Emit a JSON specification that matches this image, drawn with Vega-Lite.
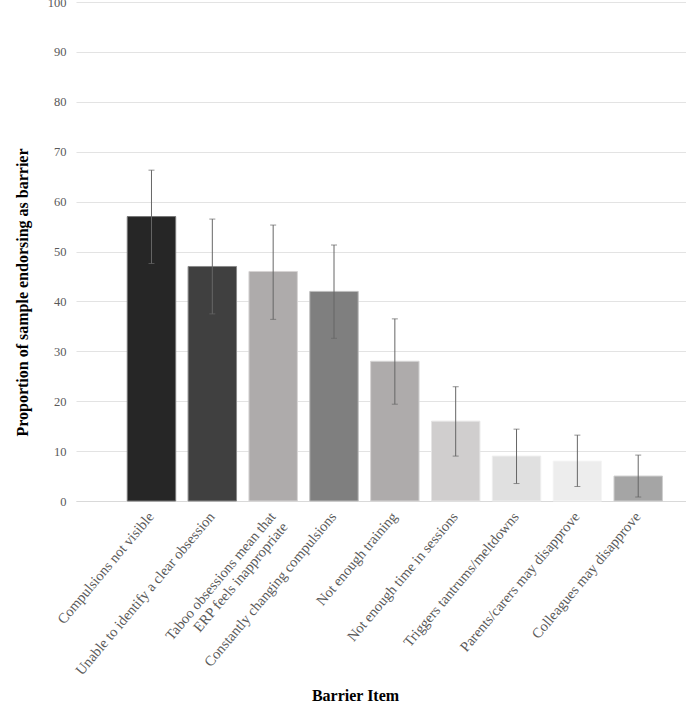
{
  "$schema": "https://vega.github.io/schema/vega-lite/v6.json",
  "autosize": "none",
  "width": 610,
  "height": 499,
  "padding": {"left": 76, "top": 2, "right": 0, "bottom": 205},
  "background": "white",
  "config": {
    "view": {"stroke": null},
    "font": "Liberation Serif"
  },
  "data": {
    "values": [
      {"item": "Compulsions not visible", "value": 57, "lo": 47.6, "hi": 66.3},
      {"item": "Unable to identify a clear obsession", "value": 47, "lo": 37.5, "hi": 56.5},
      {"item": "Taboo obsessions mean that ERP feels inappropriate", "value": 46, "lo": 36.4, "hi": 55.3},
      {"item": "Constantly changing compulsions", "value": 42, "lo": 32.6, "hi": 51.3},
      {"item": "Not enough training", "value": 28, "lo": 19.4, "hi": 36.5},
      {"item": "Not enough time in sessions", "value": 16, "lo": 9.0, "hi": 22.9},
      {"item": "Triggers tantrums/meltdowns", "value": 9, "lo": 3.5, "hi": 14.4},
      {"item": "Parents/carers may disapprove", "value": 8, "lo": 2.9, "hi": 13.2},
      {"item": "Colleagues may disapprove", "value": 5, "lo": 0.8, "hi": 9.2}
    ]
  },
  "encoding": {
    "x": {
      "field": "item",
      "type": "nominal",
      "sort": null,
      "scale": {"paddingInner": 0.204, "paddingOuter": 0.615, "align": 0.685},
      "axis": {
        "title": "Barrier Item",
        "titleFont": "Liberation Serif",
        "titleFontSize": 16,
        "titleFontWeight": "bold",
        "titleColor": "#000000",
        "titleX": 279,
        "titleY": 186,
        "labelAngle": -50,
        "labelFontSize": 14.5,
        "labelColor": "#595959",
        "labelFont": "Liberation Serif",
        "labelExpr": "datum.value == 'Taboo obsessions mean that ERP feels inappropriate' ? ['Taboo obsessions mean that', 'ERP feels inappropriate'] : datum.value",
        "labelLimit": 400,
        "labelPadding": 13,
        "ticks": false,
        "domain": true,
        "domainColor": "#d9d9d9",
        "labelLineHeight": 16
      }
    }
  },
  "layer": [
    {
      "mark": {"type": "bar", "strokeWidth": 1},
      "encoding": {
        "y": {
          "field": "value",
          "type": "quantitative",
          "scale": {"domain": [0, 100]},
          "axis": {
            "title": "Proportion of sample endorsing as barrier",
            "titleFont": "Liberation Serif",
            "titleFontSize": 16,
            "titleFontWeight": "bold",
            "titleColor": "#000000",
            "titleY": 290,
            "titlePadding": 17,
            "values": [0, 10, 20, 30, 40, 50, 60, 70, 80, 90, 100],
            "labelFontSize": 12.5,
            "labelColor": "#595959",
            "labelFont": "Liberation Serif",
            "labelPadding": 10,
            "ticks": false,
            "domain": false,
            "grid": true,
            "gridColor": "#e3e3e3",
            "gridWidth": 1
          }
        },
        "fill": {
          "field": "item",
          "type": "nominal",
          "legend": null,
          "scale": {
            "domain": ["Compulsions not visible", "Unable to identify a clear obsession", "Taboo obsessions mean that ERP feels inappropriate", "Constantly changing compulsions", "Not enough training", "Not enough time in sessions", "Triggers tantrums/meltdowns", "Parents/carers may disapprove", "Colleagues may disapprove"],
            "range": ["#262626", "#404040", "#aeabab", "#7f7f7f", "#aeabab", "#d0cece", "#e0e0e0", "#ededed", "#a5a5a5"]
          }
        },
        "stroke": {
          "field": "item",
          "type": "nominal",
          "legend": null,
          "scale": {
            "domain": ["Compulsions not visible", "Unable to identify a clear obsession", "Taboo obsessions mean that ERP feels inappropriate", "Constantly changing compulsions", "Not enough training", "Not enough time in sessions", "Triggers tantrums/meltdowns", "Parents/carers may disapprove", "Colleagues may disapprove"],
            "range": ["#777777", "#8a8a8a", "#d6d4d4", "#bdbdbd", "#d6d4d4", "#e6e5e5", "#eeeeee", "#f5f5f5", "#cfcfcf"]
          }
        }
      }
    },
    {
      "mark": {"type": "rule", "color": "#666666", "strokeWidth": 1},
      "encoding": {
        "y": {"field": "lo", "type": "quantitative"},
        "y2": {"field": "hi"}
      }
    },
    {
      "mark": {"type": "tick", "color": "#666666", "size": 6, "thickness": 1, "orient": "horizontal"},
      "encoding": {
        "y": {"field": "lo", "type": "quantitative"}
      }
    },
    {
      "mark": {"type": "tick", "color": "#666666", "size": 6, "thickness": 1, "orient": "horizontal"},
      "encoding": {
        "y": {"field": "hi", "type": "quantitative"}
      }
    }
  ]
}
